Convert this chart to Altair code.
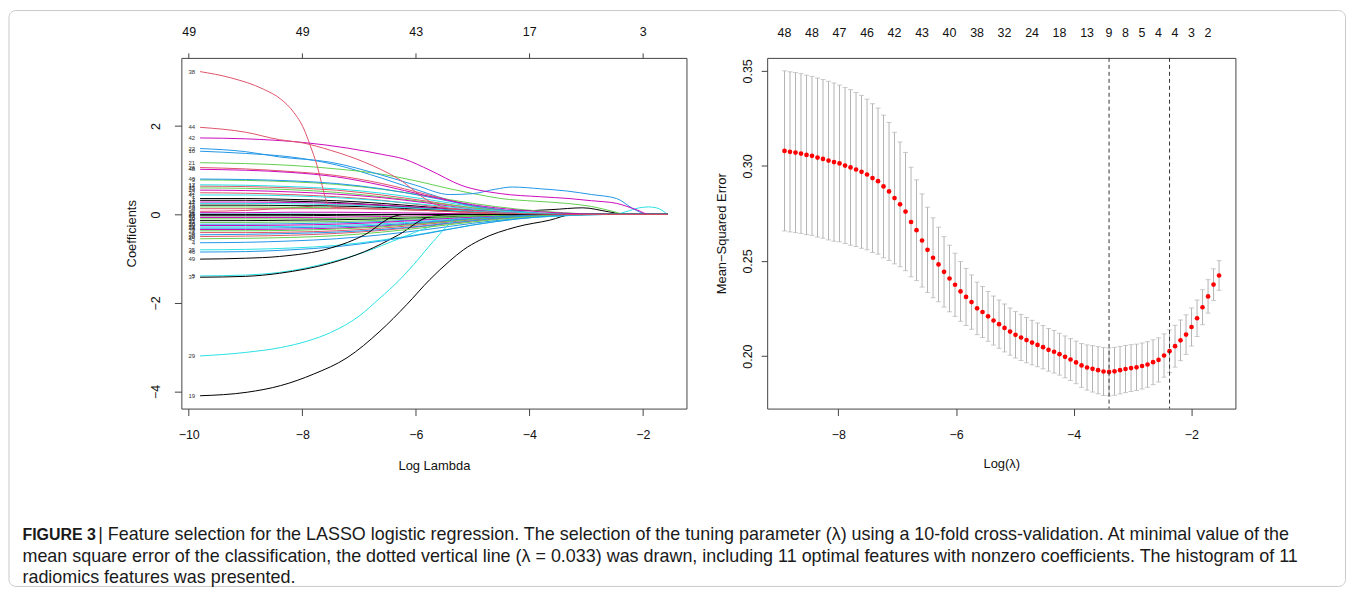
import altair as alt
import pandas as pd

FONT = "Liberation Sans, Arial, Helvetica, sans-serif"
PALETTE = ["#000000", "#DF536B", "#61D04F", "#2297E6", "#28E2E5", "#CD0BBC"]

# ---------------- left panel: coefficient paths ----------------
C = [-9.8, -9.0, -8.2, -7.4, -6.6, -5.8, -5.0, -4.2, -3.4, -2.6, -1.56]

path_labels = [38, 44, 42, 22, 10, 21, 26, 48, 40, 3,
               17, 15, 14, 24, 32, 41, 1, 7, 12, 47,
               13, 9, 50, 2, 36, 11, 25, 43, 18, 39,
               31, 33, 16, 30, 23, 34, 6, 27, 8, 28,
               20, 45, 4, 35, 46, 49, 37, 5, 29, 19]

path_x = [
    [-9.8, -9.26, -8.68, -8.38, -8.15, -7.97, -7.86, -7.74, -7.65, -7.59, -7.53, -7.45, -7.0, -6.4, -5.8, -5.2, -4.6, -4.0, -1.56],
    [-9.8, -9.0, -8.4, -8.0, -7.5, -6.9, -6.3, -5.75, -5.2, -4.6, -4.2, -1.56],
    [-9.8, -9.0, -8.0, -7.2, -6.6, -6.2, -5.75, -5.2, -4.5, -3.8, -3.3, -2.9, -2.46, -2.1, -1.88, -1.56],
    [-9.8, -9.0, -8.4, -7.5, -6.6, -6.0, -5.4, -5.0, -4.6, -4.3, -3.8, -3.34, -2.9, -2.46, -2.17, -1.9, -1.56],
    C,
    [-9.8, -9.0, -8.2, -7.4, -6.6, -6.0, -5.4, -4.9, -4.5, -3.9, -3.34, -2.9, -2.5, -2.3, -1.56],
    C, C, C, C,
    C, C, C, C, C, C,
    [-9.8, -9.0, -8.2, -7.4, -6.6, -5.8, -5.0, -4.2, -3.6, -3.06, -2.6, -2.3, -1.56],
    C, C, C,
    C, C, C, C, C,
    [-9.8, -9.0, -8.2, -7.4, -2.5, -2.3, -2.06, -1.9, -1.76, -1.56],
    C, C, C, C,
    C, C, C, C, C, C, C, C, C, C,
    C, C, C, C, C,
    [-9.8, -9.0, -8.4, -7.5, -6.9, -6.4, -6.2, -1.56],
    [-9.8, -9.0, -8.4, -7.5, -6.9, -6.3, -5.75, -5.3, -1.56],
    [-9.8, -9.0, -8.4, -7.5, -6.9, -6.3, -5.75, -5.2, -4.6, -1.56],
    [-9.8, -9.0, -8.38, -7.9, -7.5, -7.0, -6.63, -6.3, -6.04, -5.69, -5.28, -5.0, -1.56],
    [-9.8, -8.97, -8.38, -7.8, -7.21, -6.63, -6.16, -5.75, -5.4, -5.16, -4.87, -4.22, -3.64, -3.23, -1.56],
]

path_y = [
    [3.23, 3.09, 2.83, 2.61, 2.31, 1.93, 1.56, 1.11, 0.66, 0.36, 0.21, 0.16, 0.14, 0.12, 0.09, 0.05, 0.02, 0, 0],
    [1.97, 1.86, 1.69, 1.62, 1.45, 1.18, 0.80, 0.29, 0.08, 0.01, 0, 0],
    [1.73, 1.71, 1.63, 1.50, 1.36, 1.25, 1.00, 0.66, 0.47, 0.40, 0.36, 0.31, 0.25, 0.10, 0, 0],
    [1.49, 1.42, 1.30, 1.18, 0.89, 0.66, 0.45, 0.47, 0.57, 0.62, 0.58, 0.53, 0.45, 0.36, 0.13, 0, 0],
    [1.43, 1.38, 1.30, 1.12, 0.82, 0.48, 0.18, 0.04, 0, 0, 0],
    [1.17, 1.15, 1.11, 1.03, 0.91, 0.76, 0.58, 0.45, 0.36, 0.30, 0.25, 0.18, 0.06, 0, 0],
    [1.06, 1.03, 0.97, 0.88, 0.70, 0.45, 0.20, 0.06, 0, 0, 0],
    [1.02, 1.00, 0.95, 0.85, 0.66, 0.42, 0.22, 0.10, 0.03, 0, 0],
    [0.80, 0.79, 0.76, 0.70, 0.58, 0.40, 0.20, 0.07, 0.01, 0, 0],
    [0.78, 0.77, 0.74, 0.68, 0.57, 0.42, 0.25, 0.12, 0.04, 0, 0],
    [0.67, 0.66, 0.63, 0.58, 0.48, 0.34, 0.18, 0.06, 0, 0, 0],
    [0.60, 0.59, 0.56, 0.50, 0.40, 0.28, 0.15, 0.05, 0, 0, 0],
    [0.64, 0.63, 0.60, 0.55, 0.44, 0.30, 0.15, 0.04, 0, 0, 0],
    [0.55, 0.54, 0.51, 0.46, 0.38, 0.26, 0.12, 0.03, 0, 0, 0],
    [0.49, 0.48, 0.45, 0.40, 0.32, 0.20, 0.09, 0.02, 0, 0, 0],
    [0.44, 0.44, 0.42, 0.38, 0.31, 0.22, 0.12, 0.05, 0.01, 0, 0],
    [0.36, 0.36, 0.34, 0.31, 0.25, 0.17, 0.10, 0.08, 0.11, 0.15, 0.06, 0, 0],
    [0.32, 0.32, 0.30, 0.27, 0.21, 0.14, 0.07, 0.02, 0, 0, 0],
    [0.28, 0.28, 0.27, 0.25, 0.21, 0.15, 0.09, 0.04, 0.01, 0, 0],
    [0.25, 0.25, 0.24, 0.22, 0.18, 0.13, 0.07, 0.02, 0, 0, 0],
    [0.21, 0.21, 0.20, 0.19, 0.16, 0.11, 0.06, 0.02, 0, 0, 0],
    [0.17, 0.17, 0.16, 0.15, 0.12, 0.09, 0.05, 0.01, 0, 0, 0],
    [0.13, 0.13, 0.13, 0.13, 0.12, 0.09, 0.05, 0.02, 0, 0, 0],
    [0.07, 0.09, 0.15, 0.22, 0.20, 0.14, 0.07, 0.02, 0, 0, 0],
    [0.04, 0.04, 0.05, 0.05, 0.04, 0.03, 0.01, 0, 0, 0, 0],
    [0.01, 0.01, 0.01, 0, 0, 0.06, 0.15, 0.17, 0.15, 0],
    [0, 0, 0, 0, 0, 0, 0, 0, 0, 0, 0],
    [-0.03, -0.03, -0.03, -0.02, -0.01, 0, 0, 0, 0, 0, 0],
    [-0.07, -0.07, -0.07, -0.06, -0.05, -0.03, -0.01, 0, 0, 0, 0],
    [-0.10, -0.10, -0.10, -0.09, -0.07, -0.05, -0.02, 0, 0, 0, 0],
    [-0.14, -0.14, -0.13, -0.12, -0.10, -0.07, -0.03, -0.01, 0, 0, 0],
    [-0.18, -0.18, -0.17, -0.16, -0.13, -0.09, -0.04, -0.01, 0, 0, 0],
    [-0.22, -0.22, -0.21, -0.19, -0.16, -0.11, -0.05, -0.01, 0, 0, 0],
    [-0.25, -0.25, -0.24, -0.22, -0.18, -0.12, -0.06, -0.02, 0, 0, 0],
    [-0.28, -0.28, -0.27, -0.25, -0.21, -0.15, -0.08, -0.03, 0, 0, 0],
    [-0.31, -0.31, -0.30, -0.28, -0.24, -0.17, -0.09, -0.03, 0, 0, 0],
    [-0.34, -0.34, -0.33, -0.31, -0.26, -0.19, -0.10, -0.04, -0.01, 0, 0],
    [-0.37, -0.37, -0.36, -0.33, -0.28, -0.20, -0.11, -0.04, 0, 0, 0],
    [-0.41, -0.41, -0.40, -0.37, -0.31, -0.22, -0.12, -0.05, -0.01, 0, 0],
    [-0.46, -0.45, -0.43, -0.40, -0.34, -0.25, -0.14, -0.05, 0, 0, 0],
    [-0.50, -0.49, -0.47, -0.43, -0.36, -0.26, -0.15, -0.06, -0.01, 0, 0],
    [-0.55, -0.54, -0.52, -0.48, -0.40, -0.29, -0.17, -0.07, -0.01, 0, 0],
    [-0.64, -0.63, -0.60, -0.55, -0.46, -0.34, -0.20, -0.09, -0.03, 0, 0],
    [-0.80, -0.79, -0.76, -0.70, -0.58, -0.42, -0.24, -0.10, -0.03, 0, 0],
    [-0.85, -0.84, -0.80, -0.73, -0.60, -0.43, -0.24, -0.10, -0.02, 0, 0],
    [-1.01, -0.99, -0.95, -0.76, -0.46, -0.05, 0, 0],
    [-1.42, -1.40, -1.33, -1.10, -0.84, -0.46, -0.05, 0, 0],
    [-1.39, -1.37, -1.31, -1.08, -0.85, -0.55, -0.28, -0.10, 0, 0],
    [-3.20, -3.12, -3.01, -2.86, -2.67, -2.30, -1.89, -1.50, -1.14, -0.61, -0.09, 0, 0],
    [-4.10, -4.02, -3.87, -3.61, -3.24, -2.64, -2.04, -1.47, -1.05, -0.80, -0.58, -0.28, -0.13, 0, 0],
]

left_top_at = [-10, -8, -6, -4, -2]
left_top_counts = ["49", "49", "43", "17", "3"]

# ---------------- right panel: cross-validation curve ----------------
log_lambda = [
    -8.915, -8.822, -8.728, -8.635, -8.541, -8.448, -8.354, -8.261, -8.167, -8.074,
    -7.980, -7.886, -7.793, -7.699, -7.606, -7.512, -7.419, -7.325, -7.232, -7.138,
    -7.045, -6.951, -6.858, -6.764, -6.671, -6.577, -6.484, -6.390, -6.297, -6.203,
    -6.110, -6.016, -5.923, -5.829, -5.736, -5.642, -5.549, -5.455, -5.362, -5.268,
    -5.175, -5.081, -4.988, -4.894, -4.801, -4.707, -4.614, -4.520, -4.427, -4.333,
    -4.240, -4.146, -4.053, -3.959, -3.866, -3.772, -3.679, -3.585, -3.492, -3.398,
    -3.305, -3.211, -3.118, -3.024, -2.931, -2.837, -2.744, -2.650, -2.557, -2.463,
    -2.370, -2.276, -2.183, -2.089, -1.996, -1.902, -1.809, -1.715, -1.622, -1.528,
]
cv_mse = [
    0.3079, 0.3074, 0.3070, 0.3065, 0.3058, 0.3053, 0.3044, 0.3037, 0.3028, 0.3020,
    0.3013, 0.3002, 0.2992, 0.2981, 0.2969, 0.2955, 0.2936, 0.2920, 0.2892, 0.2866,
    0.2831, 0.2798, 0.2760, 0.2705, 0.2662, 0.2608, 0.2559, 0.2517, 0.2482, 0.2443,
    0.2408, 0.2375, 0.2340, 0.2311, 0.2284, 0.2251, 0.2232, 0.2209, 0.2187, 0.2168,
    0.2148, 0.2129, 0.2112, 0.2098, 0.2084, 0.2071, 0.2059, 0.2047, 0.2033, 0.2023,
    0.2010, 0.1996, 0.1982, 0.1967, 0.1951, 0.1940, 0.1933, 0.1926, 0.1919, 0.1917,
    0.1920, 0.1926, 0.1932, 0.1937, 0.1941, 0.1948, 0.1956, 0.1968, 0.1980, 0.2003,
    0.2026, 0.2052, 0.2083, 0.2113, 0.2153, 0.2199, 0.2257, 0.2314, 0.2376, 0.2424,
]
cv_sd = [
    0.0421, 0.0421, 0.0421, 0.0420, 0.0419, 0.0418, 0.0418, 0.0417, 0.0417, 0.0416,
    0.0412, 0.0410, 0.0409, 0.0405, 0.0402, 0.0396, 0.0391, 0.0384, 0.0375, 0.0363,
    0.0346, 0.0328, 0.0311, 0.0288, 0.0265, 0.0245, 0.0224, 0.0210, 0.0196, 0.0185,
    0.0175, 0.0166, 0.0157, 0.0150, 0.0143, 0.0138, 0.0134, 0.0131, 0.0129, 0.0127,
    0.0126, 0.0124, 0.0122, 0.0121, 0.0119, 0.0117, 0.0115, 0.0114, 0.0112, 0.0112,
    0.0110, 0.0110, 0.0110, 0.0112, 0.0115, 0.0119, 0.0122, 0.0124, 0.0126, 0.0126,
    0.0126, 0.0125, 0.0124, 0.0123, 0.0122, 0.0121, 0.0120, 0.0118, 0.0116, 0.0114,
    0.0112, 0.0110, 0.0107, 0.0104, 0.0100, 0.0096, 0.0092, 0.0088, 0.0083, 0.0078,
]
nz_idx = [0, 5, 10, 15, 20, 25, 30, 35, 40, 45, 50, 55, 59, 62, 65, 68, 71, 74, 77]
nz_labels = ["48", "48", "47", "46", "42", "43", "40", "38", "32", "24",
             "18", "13", "9", "8", "5", "4", "4", "3", "2"]
log_lambda_min = -3.398
log_lambda_1se = -2.370

caption_bold = "FIGURE 3"
caption_lines = [
    "| Feature selection for the LASSO logistic regression. The selection of the tuning parameter (\u03bb) using a 10-fold cross-validation. At minimal value of the",
    "mean square error of the classification, the dotted vertical line (\u03bb = 0.033) was drawn, including 11 optimal features with nonzero coefficients. The histogram of 11",
    "radiomics features was presented.",
]

# ---------------- build tables ----------------
rows = []
for lab, xs, ys in zip(path_labels, path_x, path_y):
    for xv, yv in zip(xs, ys):
        rows.append({"var": lab, "x": xv, "coef": yv, "col": (lab - 1) % 6})
df_paths = pd.DataFrame(rows).sort_values(["var", "x"]).reset_index(drop=True)

df_lab = pd.DataFrame({
    "x": [xs[0] for xs in path_x],
    "coef": [ys[0] for ys in path_y],
    "label": [str(l) for l in path_labels],
})

df_cv = pd.DataFrame({"loglam": log_lambda, "mse": cv_mse, "sd": cv_sd})
df_cv["upper"] = df_cv["mse"] + df_cv["sd"]
df_cv["lower"] = df_cv["mse"] - df_cv["sd"]

df_nz = pd.DataFrame({"x": [log_lambda[i] for i in nz_idx], "lab": nz_labels})
df_vl = pd.DataFrame({"v": [log_lambda_min, log_lambda_1se]})
one = pd.DataFrame({"k": [0]})

# ---------------- geometry ----------------
LW, LH = 507, 352
RW, RH = 470, 352

xs_left = alt.Scale(domain=[-10.13, -1.23], nice=False, zero=False)
ys_left = alt.Scale(domain=[-4.39, 3.54], nice=False, zero=False)
xs_right = alt.Scale(domain=[-9.21, -1.25], nice=False, zero=False)
ys_right = alt.Scale(domain=[0.1724, 0.3568], nice=False, zero=False)

top_expr = " : ".join(
    f"datum.value == {v} ? '{c}'" for v, c in zip(left_top_at, left_top_counts)
) + " : ''"

# ---------------- left chart ----------------
paths = alt.Chart(df_paths).mark_line(strokeWidth=1, interpolate="monotone").encode(
    x=alt.X("x:Q", scale=xs_left, title="Log Lambda",
            axis=alt.Axis(values=left_top_at, tickSize=7, labelPadding=13,
                          titlePadding=19, format="d")),
    y=alt.Y("coef:Q", scale=ys_left, title="Coefficients",
            axis=alt.Axis(values=[-4, -2, 0, 2], tickSize=7, labelPadding=12,
                          labelAngle=270, labelAlign="center", labelBaseline="bottom",
                          titlePadding=11, format="d")),
    color=alt.Color("col:N", scale=alt.Scale(domain=[0, 1, 2, 3, 4, 5], range=PALETTE), legend=None),
    detail="var:N",
    order="x:Q",
)

labs = alt.Chart(df_lab).mark_text(align="right", baseline="middle", dx=-5,
                                   fontSize=6, font=FONT, color="#333333").encode(
    x=alt.X("x:Q", scale=xs_left,
            axis=alt.Axis(orient="top", values=left_top_at, labelExpr=top_expr,
                          tickSize=5, labelPadding=14, title=None)),
    y=alt.Y("coef:Q", scale=ys_left, axis=None),
    text="label:N",
)

border = alt.Chart(one).mark_rect(fillOpacity=0, stroke="#c9c9c9", strokeWidth=1,
                                  cornerRadius=7).encode(
    x=alt.value(-173), x2=alt.value(1168.5), y=alt.value(-47.5), y2=alt.value(530.5)
)

cap_b = alt.Chart(one).mark_text(align="left", baseline="middle", fontSize=16,
                                 fontWeight="bold", font=FONT, color="#1a1a1a").encode(
    x=alt.value(-159.5), y=alt.value(479), text=alt.value(caption_bold)
)
cap_layers = []
for line, xv, yv in zip(caption_lines, [-83.5, -159.5, -159.5], [479, 501, 522]):
    cap_layers.append(
        alt.Chart(one).mark_text(align="left", baseline="middle", fontSize=18,
                                 font=FONT, color="#1a1a1a").encode(
            x=alt.value(xv), y=alt.value(yv), text=alt.value(line)
        )
    )

left = alt.layer(paths, labs, border, cap_b, *cap_layers).resolve_axis(
    x="independent", y="independent").properties(width=LW, height=LH)

# ---------------- right chart ----------------
GREY = "#b3b3b3"
bars = alt.Chart(df_cv).mark_rule(color=GREY, strokeWidth=1).encode(
    x=alt.X("loglam:Q", scale=xs_right, title="Log(\u03bb)",
            axis=alt.Axis(values=[-8, -6, -4, -2], tickSize=7, labelPadding=13,
                          titlePadding=17, format="d")),
    y=alt.Y("lower:Q", scale=ys_right, title="Mean\u2212Squared Error",
            axis=alt.Axis(values=[0.20, 0.25, 0.30, 0.35], tickSize=6, labelPadding=7,
                          labelAngle=270, labelAlign="center", labelBaseline="bottom",
                          titlePadding=13, format=".2f")),
    y2="upper:Q",
)
cap_hi = alt.Chart(df_cv).mark_tick(orient="horizontal", size=5, thickness=1, color=GREY).encode(
    x=alt.X("loglam:Q", scale=xs_right, axis=None),
    y=alt.Y("upper:Q", scale=ys_right, axis=None),
)
cap_lo = alt.Chart(df_cv).mark_tick(orient="horizontal", size=5, thickness=1, color=GREY).encode(
    x=alt.X("loglam:Q", scale=xs_right, axis=None),
    y=alt.Y("lower:Q", scale=ys_right, axis=None),
)
dots = alt.Chart(df_cv).mark_circle(color="#ff0000", size=22, opacity=1).encode(
    x=alt.X("loglam:Q", scale=xs_right, axis=None),
    y=alt.Y("mse:Q", scale=ys_right, axis=None),
)
vlines = alt.Chart(df_vl).mark_rule(color="#333333", strokeWidth=1, strokeDash=[4, 3]).encode(
    x=alt.X("v:Q", scale=xs_right, axis=None),
)
toplab = alt.Chart(df_nz).mark_text(baseline="middle", fontSize=12.5, font=FONT,
                                    color="#111111").encode(
    x=alt.X("x:Q", scale=xs_right, axis=None),
    y=alt.value(-25),
    text="lab:N",
)
right = alt.layer(bars, cap_hi, cap_lo, dots, vlines, toplab).resolve_axis(
    x="independent", y="independent").properties(width=RW, height=RH)

chart = alt.hconcat(left, right, spacing=81, bounds="flush").properties(
    padding={"left": 0, "top": 0, "right": 0, "bottom": 0}
).configure_view(stroke="#444444", strokeWidth=1).configure_axis(
    labelFont=FONT, titleFont=FONT, labelFontSize=12.5, titleFontSize=13,
    titleFontWeight="normal", labelColor="#111111", titleColor="#111111",
    tickColor="#444444", domain=False, grid=False,
)

chart.save("out.html", embed_options={"renderer": "svg", "actions": False})
